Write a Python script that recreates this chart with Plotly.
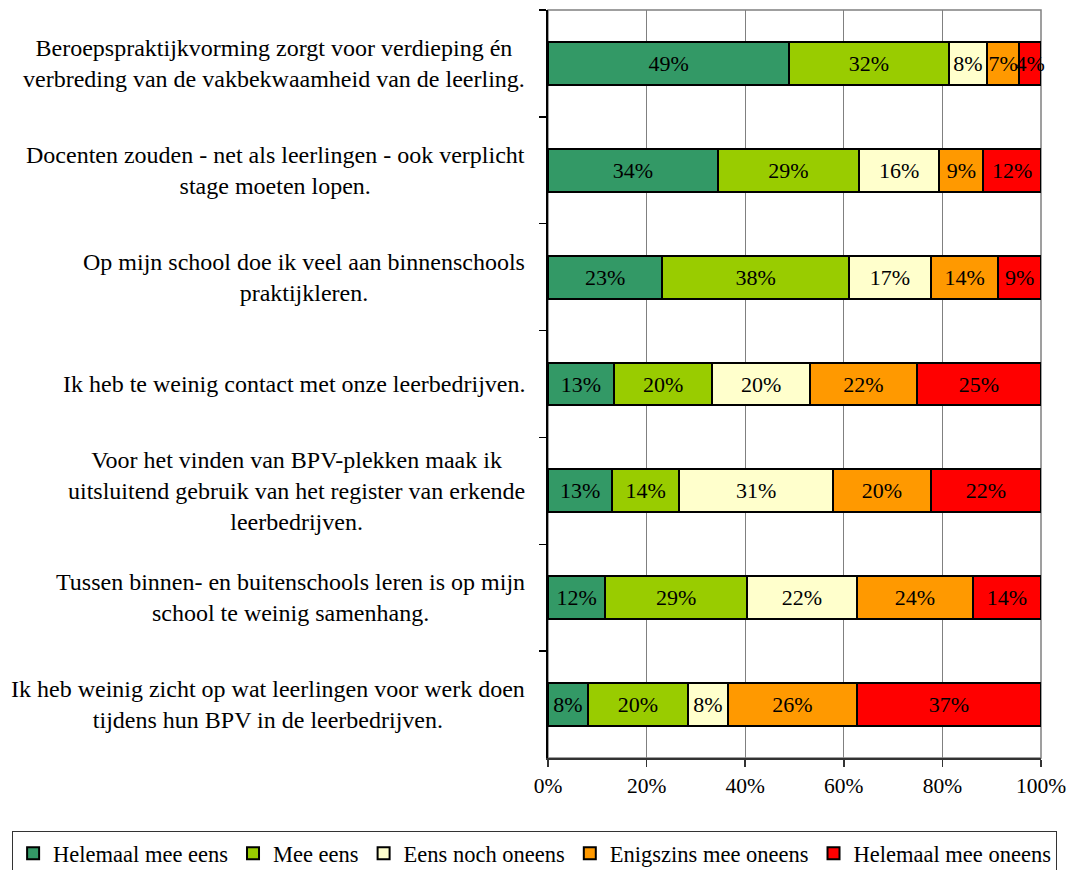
import plotly.graph_objects as go

categories = [
    "Beroepspraktijkvorming zorgt voor verdieping én<br>verbreding van de vakbekwaamheid van de leerling.",
    "Docenten zouden - net als leerlingen - ook verplicht<br>stage moeten lopen.",
    "Op mijn school doe ik veel aan binnenschools<br>praktijkleren.",
    "Ik heb te weinig contact met onze leerbedrijven.",
    "Voor het vinden van BPV-plekken maak ik<br>uitsluitend gebruik van het register van erkende<br>leerbedrijven.",
    "Tussen binnen- en buitenschools leren is op mijn<br>school te weinig samenhang.",
    "Ik heb weinig zicht op wat leerlingen voor werk doen<br>tijdens hun BPV in de leerbedrijven.",
]

series_names = ["Helemaal mee eens", "Mee eens", "Eens noch oneens",
                "Enigszins mee oneens", "Helemaal mee oneens"]

helemaal_eens = [48.9, 34.4, 23.2, 13.4, 13.0, 11.6, 8.1]
mee_eens = [32.4, 28.7, 37.8, 19.9, 13.6, 28.8, 20.3]
eens_noch_oneens = [7.7, 16.3, 16.7, 19.9, 31.2, 22.2, 8.1]
enigszins_oneens = [6.6, 8.9, 13.6, 21.6, 19.9, 23.6, 26.1]
helemaal_oneens = [4.4, 11.7, 8.7, 25.2, 22.3, 13.8, 37.4]

series_values = [helemaal_eens, mee_eens, eens_noch_oneens, enigszins_oneens, helemaal_oneens]
colors = ["#339966", "#99CC00", "#FFFFCC", "#FF9900", "#FF0000"]

x_ticks = [0, 20, 40, 60, 80, 100]
x_ticktext = [f"{v}%" for v in x_ticks]

SERIF = "Liberation Serif"

fig = go.Figure()
for name, vals, col in zip(series_names, series_values, colors):
    fig.add_trace(go.Bar(
        y=categories, x=vals, name=name, orientation="h",
        marker=dict(color=col, line=dict(color="#000000", width=2)),
        texttemplate="%{x:.0f}%", textposition="inside",
        insidetextanchor="middle", textangle=0, constraintext="none",
        textfont=dict(family=SERIF, size=22, color="#000000"),
        cliponaxis=False, hoverinfo="skip",
    ))

annotations = []
for c in categories:
    annotations.append(dict(
        x=0, xref="paper", y=c, yref="y", xanchor="right", yanchor="middle",
        xshift=-21, align="center", showarrow=False, text=c,
        font=dict(family=SERIF, size=24, color="#000000"),
    ))

fig.update_layout(
    width=1070, height=870,
    margin=dict(l=548, r=29, t=10, b=112, autoexpand=False),
    barmode="stack", bargap=0.6,
    paper_bgcolor="white", plot_bgcolor="white",
    showlegend=True,
    legend=dict(
        orientation="h", x=-1.087, xanchor="left", y=-0.0976, yanchor="top",
        traceorder="normal", bordercolor="#333333", borderwidth=1,
        font=dict(family=SERIF, size=22.5, color="#000000"),
        itemwidth=30,
    ),
    annotations=annotations,
    shapes=[dict(type="rect", xref="paper", yref="paper", x0=0, x1=1, y0=0, y1=1,
                 line=dict(color="#808080", width=1.5), layer="below")],
)

fig.update_xaxes(
    range=[0, 100], tickvals=x_ticks, ticktext=x_ticktext,
    showgrid=True, gridcolor="#808080", gridwidth=1,
    showline=True, linecolor="#333333", linewidth=2,
    ticks="outside", ticklen=7, tickcolor="#333333", tickwidth=1.5,
    tickfont=dict(family=SERIF, size=21.5, color="#000000"),
    zeroline=False, fixedrange=True, automargin=False,
)
fig.update_yaxes(
    categoryorder="array", categoryarray=categories, autorange="reversed",
    showticklabels=False, tickson="boundaries",
    ticks="outside", ticklen=7, tickcolor="#000000", tickwidth=1.5,
    showline=True, linecolor="#000000", linewidth=2,
    showgrid=False, zeroline=False, fixedrange=True, automargin=False,
)

fig.write_html(
    "out.html",
    config={"displayModeBar": False, "staticPlot": True},
    post_script="document.body.style.margin='0';document.documentElement.style.overflow='hidden';",
)
